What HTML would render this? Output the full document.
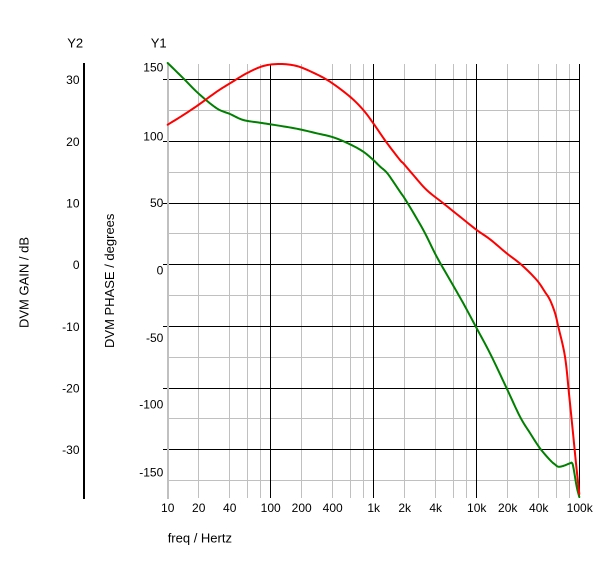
<!DOCTYPE html>
<html>
<head>
<meta charset="utf-8">
<style>
  html, body { margin: 0; padding: 0; background: #ffffff; }
  svg { display: block; }
  text { font-family: "Liberation Sans", Arial, sans-serif; fill: #000; }
</style>
</head>
<body>
<svg width="600" height="563" viewBox="0 0 600 563" xmlns="http://www.w3.org/2000/svg">
  <rect x="0" y="0" width="600" height="563" fill="#ffffff"/>

  <!-- minor vertical grid lines -->
  <g stroke="#c0c0c0" stroke-width="1">
    <line x1="198.5" y1="64" x2="198.5" y2="498"/>
    <line x1="229.5" y1="64" x2="229.5" y2="498"/>
    <line x1="247.5" y1="64" x2="247.5" y2="498"/>
    <line x1="260.5" y1="64" x2="260.5" y2="498"/>
    <line x1="301.5" y1="64" x2="301.5" y2="498"/>
    <line x1="332.5" y1="64" x2="332.5" y2="498"/>
    <line x1="350.5" y1="64" x2="350.5" y2="498"/>
    <line x1="363.5" y1="64" x2="363.5" y2="498"/>
    <line x1="404.5" y1="64" x2="404.5" y2="498"/>
    <line x1="435.5" y1="64" x2="435.5" y2="498"/>
    <line x1="453.5" y1="64" x2="453.5" y2="498"/>
    <line x1="466.5" y1="64" x2="466.5" y2="498"/>
    <line x1="507.5" y1="64" x2="507.5" y2="498"/>
    <line x1="538.5" y1="64" x2="538.5" y2="498"/>
    <line x1="556.5" y1="64" x2="556.5" y2="498"/>
    <line x1="569.5" y1="64" x2="569.5" y2="498"/>
  </g>
  <!-- minor horizontal grid lines -->
  <g stroke="#c0c0c0" stroke-width="1">
    <line x1="168" y1="110.5" x2="580" y2="110.5"/>
    <line x1="168" y1="172.5" x2="580" y2="172.5"/>
    <line x1="168" y1="233.5" x2="580" y2="233.5"/>
    <line x1="168" y1="295.5" x2="580" y2="295.5"/>
    <line x1="168" y1="357.5" x2="580" y2="357.5"/>
    <line x1="168" y1="418.5" x2="580" y2="418.5"/>
    <line x1="168" y1="480.5" x2="580" y2="480.5"/>
  </g>
  <!-- major horizontal grid lines (with ticks) -->
  <g stroke="#000" stroke-width="1">
    <line x1="163" y1="79.5" x2="580" y2="79.5"/>
    <line x1="163" y1="141.5" x2="580" y2="141.5"/>
    <line x1="163" y1="203.5" x2="580" y2="203.5"/>
    <line x1="163" y1="264.5" x2="580" y2="264.5"/>
    <line x1="163" y1="326.5" x2="580" y2="326.5"/>
    <line x1="163" y1="388.5" x2="580" y2="388.5"/>
    <line x1="163" y1="449.5" x2="580" y2="449.5"/>
  </g>
  <!-- major vertical grid lines -->
  <g stroke="#000" stroke-width="1">
    <line x1="270.5" y1="64" x2="270.5" y2="498"/>
    <line x1="373.5" y1="64" x2="373.5" y2="498"/>
    <line x1="476.5" y1="64" x2="476.5" y2="498"/>
    <line x1="579.5" y1="64" x2="579.5" y2="498"/>
  </g>
  <!-- left plot axis (gray) -->
  <line x1="168" y1="63" x2="168" y2="499" stroke="#c0c0c0" stroke-width="2"/>
  <!-- Y2 axis line -->
  <line x1="84" y1="63" x2="84" y2="499" stroke="#000" stroke-width="2"/>

  <!-- green curve -->
  <polyline id="g" fill="none" stroke="#008000" stroke-width="2" stroke-linejoin="round" stroke-linecap="round"
    points="167.7,63 183.3,78.3 198.3,93.3 216.7,108.3 230,114 243.3,120 260,122.7 276.7,125.3 296.7,128.7 316.7,133.3 333.3,137.3 350,144.3 363.3,151.7 373.3,160 380,166.5 386.7,172.5 393.3,181.7 400,191.7 406.7,201.7 423.3,230 436.7,256.7 450,280 463.3,303.3 476.7,328.3 490,353.3 506.7,388.3 520,416.7 530,433 540,448.3 550,460 555,464.5 558.3,466.7 563,466 570,463.3 572,463 573.5,468 576.7,486.7 579.3,497"/>
  <!-- red curve -->
  <polyline id="r" fill="none" stroke="#ff0000" stroke-width="2" stroke-linejoin="round" stroke-linecap="round"
    points="167.7,124.7 183.3,115 198.3,105 216.7,91.7 230,83.3 246.7,73.3 263.3,66 280,64 296.7,66 313.3,72.7 330,81.7 350,96.7 363.3,110 373.3,123.3 386,141.7 400,160 403.3,163.3 413.3,175 426.7,190 443.3,203.3 460,216.7 476.7,230 490,239.3 506.7,253.3 521.7,265 536.7,280 545,292 550,300 555,313 558.3,326.7 565,356.7 569.3,396.7 572.7,430 576,463.3 579.3,494"/>

  <!-- titles -->
  <text x="75.2" y="47.3" font-size="13" text-anchor="middle">Y2</text>
  <text x="158.7" y="47.3" font-size="13" text-anchor="middle">Y1</text>

  <!-- Y2 tick labels -->
  <g font-size="12" text-anchor="end">
    <text x="79.5" y="83.8">30</text>
    <text x="79.5" y="145.8">20</text>
    <text x="79.5" y="207.6">10</text>
    <text x="79.5" y="268.8">0</text>
    <text x="79.5" y="330.8">-10</text>
    <text x="79.5" y="392.6">-20</text>
    <text x="79.5" y="453.8">-30</text>
  </g>
  <!-- Y1 tick labels -->
  <g font-size="12" text-anchor="end">
    <text x="163.3" y="71.6">150</text>
    <text x="163.3" y="140.3">100</text>
    <text x="163.3" y="207">50</text>
    <text x="163.3" y="274.3">0</text>
    <text x="163.3" y="342">-50</text>
    <text x="163.3" y="408.6">-100</text>
    <text x="163.3" y="476.6">-150</text>
  </g>
  <!-- X tick labels -->
  <g font-size="12" text-anchor="middle">
    <text x="167.7" y="512">10</text>
    <text x="198.7" y="512">20</text>
    <text x="229.7" y="512">40</text>
    <text x="270.7" y="512">100</text>
    <text x="301.7" y="512">200</text>
    <text x="332.7" y="512">400</text>
    <text x="373.7" y="512">1k</text>
    <text x="404.7" y="512">2k</text>
    <text x="435.7" y="512">4k</text>
    <text x="476.7" y="512">10k</text>
    <text x="507.7" y="512">20k</text>
    <text x="538.7" y="512">40k</text>
    <text x="579.7" y="512">100k</text>
  </g>

  <!-- axis titles -->
  <text x="167.7" y="542.3" font-size="13">freq / Hertz</text>
  <text transform="translate(28.3,282.5) rotate(-90)" font-size="13" text-anchor="middle">DVM GAIN / dB</text>
  <text transform="translate(114,280.8) rotate(-90)" font-size="13" text-anchor="middle">DVM PHASE / degrees</text>
</svg>
<script>
(function(){
  function smooth(id){
    var el = document.getElementById(id);
    if(!el) return;
    var pts = el.getAttribute('points').trim().split(/\s+/).map(function(s){var a=s.split(',');return [parseFloat(a[0]),parseFloat(a[1])];});
    var out = [];
    var n = pts.length;
    for(var i=0;i<n-1;i++){
      var p0 = pts[Math.max(0,i-1)], p1 = pts[i], p2 = pts[i+1], p3 = pts[Math.min(n-1,i+2)];
      var steps = 8;
      for(var s=0;s<steps;s++){
        var t = s/steps, t2=t*t, t3=t2*t;
        var x = 0.5*((2*p1[0]) + (-p0[0]+p2[0])*t + (2*p0[0]-5*p1[0]+4*p2[0]-p3[0])*t2 + (-p0[0]+3*p1[0]-3*p2[0]+p3[0])*t3);
        var y = 0.5*((2*p1[1]) + (-p0[1]+p2[1])*t + (2*p0[1]-5*p1[1]+4*p2[1]-p3[1])*t2 + (-p0[1]+3*p1[1]-3*p2[1]+p3[1])*t3);
        out.push(x.toFixed(2)+','+y.toFixed(2));
      }
    }
    out.push(pts[n-1][0]+','+pts[n-1][1]);
    el.setAttribute('points', out.join(' '));
  }
  smooth('g'); smooth('r');
})();
</script>
</body>
</html>
